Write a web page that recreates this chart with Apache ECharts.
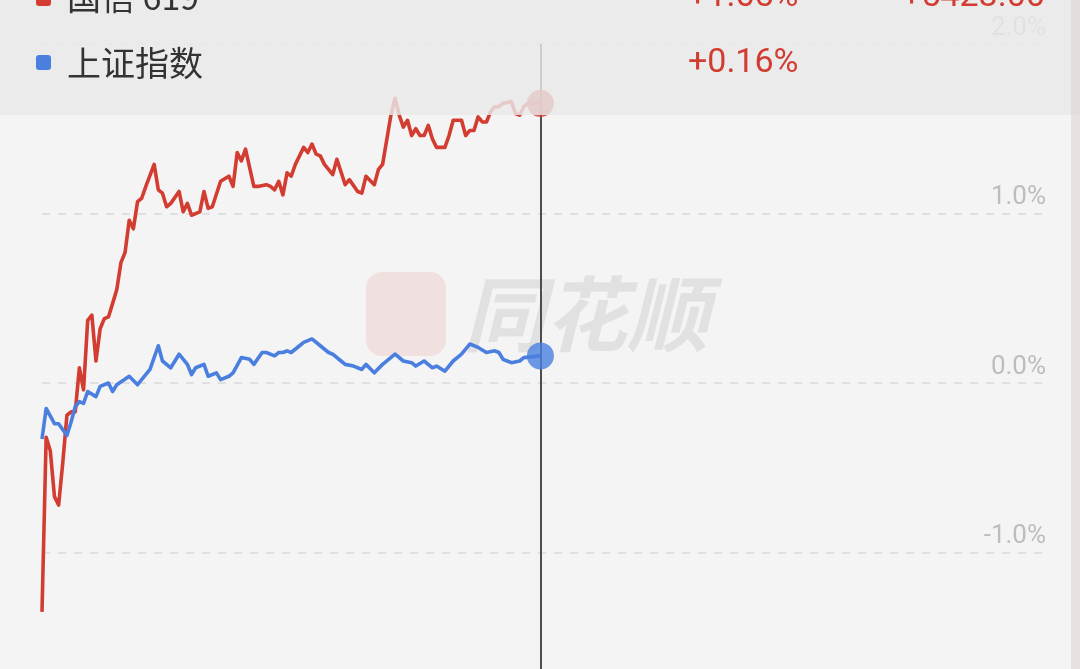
<!DOCTYPE html>
<html>
<head>
<meta charset="utf-8">
<script src="https://cdn.jsdelivr.net/npm/echarts@6/dist/echarts.min.js"></script>
<style>
html,body{margin:0;padding:0;background:#f4f4f4;}
#chart{width:1080px;height:669px;}
</style>
</head>
<body>
<div id="chart"></div>
<script>
// Intraday data (minutes since open, % change)
const redName = '国信 619';
const blueName = '上证指数';
const redTime = [0,1,2,3,4,5,6,7,8,9,10,11,12,13,14,15,16,17,18,19,20,21,22,23,24,25,27,28,29,30,31,33,34,35,36,38,39,40,41,43,45,46,47,48,49,51,52,54,55,56,57,58,59,60,61,63,64,65,66,67,68,70,71,73,74,76,77,78,80,81,82,84,85,86,87,88,89,90,91,92,93,94,95,97,98,99,101,102,103,104,105,106,107,108,109,110,111,113,114,115,116,117,120];
const redPct = [-1.35,-0.32,-0.40,-0.67,-0.72,-0.47,-0.19,-0.17,-0.17,0.09,-0.04,0.37,0.40,0.13,0.32,0.38,0.39,0.47,0.55,0.71,0.77,0.96,0.91,1.07,1.09,1.16,1.29,1.14,1.12,1.04,1.06,1.13,1.01,1.06,0.99,1.01,1.13,1.03,1.04,1.19,1.22,1.16,1.36,1.31,1.38,1.16,1.16,1.17,1.16,1.14,1.19,1.11,1.24,1.22,1.29,1.39,1.36,1.41,1.35,1.34,1.29,1.23,1.32,1.17,1.20,1.13,1.12,1.22,1.17,1.26,1.29,1.58,1.68,1.58,1.51,1.55,1.46,1.50,1.46,1.46,1.52,1.44,1.39,1.39,1.46,1.55,1.55,1.46,1.49,1.49,1.57,1.54,1.54,1.60,1.63,1.63,1.65,1.66,1.59,1.58,1.63,1.65,1.65];
const blueTime = [0,1,3,4,6,7,8,9,10,11,13,14,16,17,18,21,23,26,28,29,31,33,35,36,37,39,40,42,43,45,46,48,50,51,53,54,56,57,58,59,60,62,63,65,67,69,70,72,73,75,77,78,80,82,85,87,89,90,92,94,95,97,99,101,103,105,107,109,110,111,112,113,115,116,120];
const bluePct = [-0.33,-0.15,-0.24,-0.24,-0.31,-0.23,-0.14,-0.11,-0.12,-0.05,-0.08,-0.02,0.00,-0.05,-0.01,0.04,-0.01,0.08,0.22,0.13,0.09,0.17,0.11,0.05,0.09,0.11,0.04,0.06,0.02,0.04,0.06,0.15,0.14,0.11,0.18,0.18,0.16,0.18,0.18,0.19,0.18,0.22,0.24,0.26,0.22,0.18,0.17,0.13,0.11,0.10,0.08,0.11,0.06,0.11,0.17,0.13,0.12,0.10,0.13,0.09,0.10,0.07,0.13,0.17,0.23,0.21,0.18,0.19,0.18,0.14,0.13,0.12,0.13,0.15,0.16];
const yTicks = [-1, 0, 1, 2];
const cursorTime = 120;
const headerRed = ['+1.65%', '+5423.00'];
const headerBlue = ['+0.16%'];

const RED = '#d23c31';
const BLUE = '#4a7fe0';
const zip = (t, v) => t.map((x, i) => [x, v[i]]);

const chart = echarts.init(document.getElementById('chart'), null, {renderer: 'canvas'});
const numFont = 'Roboto, "Noto Sans", sans-serif';
const cjkFont = '"Noto Sans CJK SC", "Noto Sans", sans-serif';

chart.setOption({
  backgroundColor: '#f4f4f4',
  animation: false,
  grid: {left: 42, right: 37, top: 44, bottom: 0, containLabel: false},
  xAxis: {type: 'value', min: 0, max: 241, show: false},
  yAxis: {
    type: 'value', position: 'right',
    min: -1.687, max: 2,
    axisLine: {show: false}, axisTick: {show: false},
    splitLine: {show: false}, axisLabel: {show: false}
  },
  series: [
    {
      name: redName, type: 'line', data: zip(redTime, redPct),
      showSymbol: false, symbol: 'none', z: 3,
      lineStyle: {color: RED, width: 3.6, join: 'round'},
      markLine: {
        silent: true, symbol: 'none', z: 1,
        lineStyle: {color: '#d9d9d9', width: 1.5, type: [8, 8]},
        label: {
          show: true, position: 'insideEndTop', distance: 3, offset: [6, 0],
          color: '#bdbdbd', fontSize: 26, fontFamily: numFont,
          formatter: p => p.value.toFixed(1) + '%'
        },
        data: yTicks.map(v => ({yAxis: v}))
      }
    },
    {
      name: blueName, type: 'line', data: zip(blueTime, bluePct),
      showSymbol: false, symbol: 'none', z: 3,
      lineStyle: {color: BLUE, width: 3.6, join: 'round'},
      markLine: {
        silent: true, symbol: 'none', label: {show: false},
        lineStyle: {color: '#4d4d4d', width: 2, type: 'solid'},
        data: [{xAxis: cursorTime}]
      }
    },
    {
      type: 'scatter', symbol: 'circle', symbolSize: 27, z: 5,
      data: [
        {value: [redTime[redTime.length - 1], redPct[redPct.length - 1]], itemStyle: {color: RED}},
        {value: [blueTime[blueTime.length - 1], bluePct[bluePct.length - 1]], itemStyle: {color: BLUE}}
      ]
    }
  ],
  graphic: [
    // watermark
    {type: 'rect', z: 1, shape: {x: 366, y: 272, width: 80, height: 84, r: 16},
     style: {fill: 'rgba(220,100,90,0.13)'}},
    {type: 'text', z: 1, x: 586, y: 314,
     style: {text: '同花顺', font: 'italic bold 82px "Noto Sans CJK SC", sans-serif',
             fill: 'rgba(0,0,0,0.075)', align: 'center', verticalAlign: 'middle'}},
    // header overlay
    {type: 'rect', z: 100, shape: {x: 0, y: 0, width: 1080, height: 115},
     style: {fill: 'rgba(233,233,233,0.82)'}},
    {type: 'rect', z: 100, shape: {x: 1071, y: 0, width: 9, height: 669},
     style: {fill: 'rgba(222,210,210,0.55)'}},
    // header row 1 (cut off at top)
    {type: 'rect', z: 101, shape: {x: 36, y: -9, width: 15, height: 15, r: 3}, style: {fill: RED}},
    {type: 'text', z: 101, x: 67, y: -3,
     style: {text: redName, font: '34px ' + cjkFont, fill: '#333', verticalAlign: 'middle'}},
    {type: 'text', z: 101, x: 688, y: -3,
     style: {text: headerRed[0], font: '34px ' + numFont, fill: RED, verticalAlign: 'middle'}},
    {type: 'text', z: 101, x: 1045, y: -3,
     style: {text: headerRed[1], font: '34px ' + numFont, fill: RED, align: 'right', verticalAlign: 'middle'}},
    // header row 2
    {type: 'rect', z: 101, shape: {x: 36, y: 55, width: 15, height: 15, r: 3}, style: {fill: BLUE}},
    {type: 'text', z: 101, x: 67, y: 63,
     style: {text: blueName, font: '34px ' + cjkFont, fill: '#333', verticalAlign: 'middle'}},
    {type: 'text', z: 101, x: 688, y: 63,
     style: {text: headerBlue[0], font: '34px ' + numFont, fill: RED, verticalAlign: 'middle'}}
  ]
});
</script>
</body>
</html>
